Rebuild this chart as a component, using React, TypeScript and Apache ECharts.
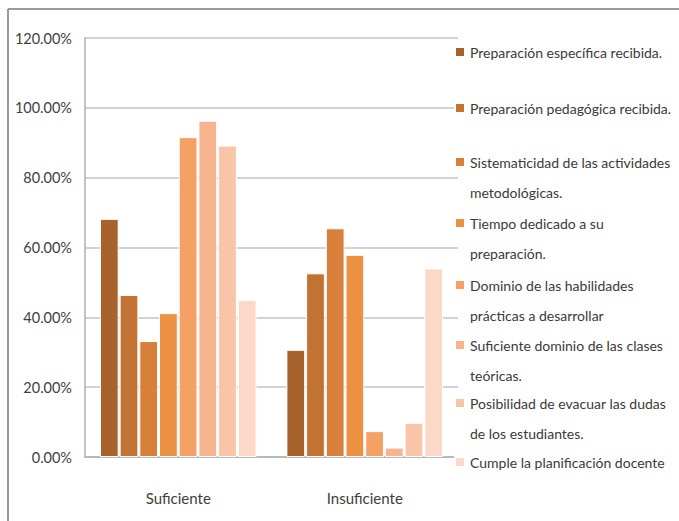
import React, { useEffect, useRef } from "react";
import * as echarts from "echarts";

const categories = ["Suficiente", "Insuficiente"];
const seriesNames = [
  "Preparación específica recibida.",
  "Preparación pedagógica recibida.",
  "Sistematicidad de las actividades metodológicas.",
  "Tiempo dedicado a su preparación.",
  "Dominio de las habilidades prácticas a desarrollar",
  "Suficiente dominio de las clases teóricas.",
  "Posibilidad de evacuar las dudas de los estudiantes.",
  "Cumple la planificación docente",
];
const legendLines = [
  ["Preparación específica recibida."],
  ["Preparación pedagógica recibida."],
  ["Sistematicidad de las actividades", "metodológicas."],
  ["Tiempo dedicado a su", "preparación."],
  ["Dominio de las habilidades", "prácticas a desarrollar"],
  ["Suficiente dominio de las clases", "teóricas."],
  ["Posibilidad de evacuar las dudas", "de los estudiantes."],
  ["Cumple la planificación docente"],
];
const suficiente = [68.2, 46.4, 33.2, 41.2, 91.6, 96.3, 89.2, 45.0];
const insuficiente = [30.7, 52.6, 65.5, 57.9, 7.4, 2.7, 9.8, 54.0];
const colors = ["#A8622B", "#C27232", "#D77F3B", "#EC9042", "#F5A064", "#F8B48F", "#F9C5A8", "#FBD8C8"];
const legendCenters = [52, 108, 162, 223, 285, 345, 403, 462];

const FONT = "Lato, 'Noto Sans', sans-serif";

export default function App() {
  const ref = useRef<HTMLDivElement>(null);
  useEffect(() => {
    if (!ref.current) return;
    const chart = echarts.init(ref.current, undefined, { renderer: "svg" });
    const LH = 30;
    const legends = seriesNames.map((name, i) => {
      const lines = legendLines[i];
      const twoLine = lines.length > 1;
      const text = twoLine ? "\n" + lines.join("\n") : lines[0];
      const h = twoLine ? LH * 3 : LH;
      return {
        show: true,
        orient: "vertical",
        left: 454,
        top: legendCenters[i] - h / 2,
        padding: 0,
        itemWidth: 10,
        itemHeight: 10,
        itemGap: 4,
        icon: "rect",
        data: [name],
        formatter: () => text,
        selectedMode: false,
        textStyle: {
          fontFamily: FONT,
          fontSize: 14,
          color: "#3a3a3a",
          lineHeight: LH,
        },
      };
    });
    chart.setOption({
      animation: false,
      color: colors,
      grid: { left: 85, right: 221, top: 38, bottom: 64, containLabel: false },
      legend: legends,
      graphic: [
        { type: "line", shape: { x1: 8, y1: 9, x2: 679, y2: 9 }, style: { stroke: "#9a9a9a", lineWidth: 2 } },
        { type: "line", shape: { x1: 8, y1: 9, x2: 8, y2: 521 }, style: { stroke: "#9a9a9a", lineWidth: 2 } },
      ],
      xAxis: {
        type: "category",
        data: categories,
        axisLine: { show: true, lineStyle: { color: "#b0b0b0", width: 1.5 } },
        axisTick: { show: false },
        axisLabel: { margin: 33, fontFamily: FONT, fontSize: 15, color: "#404040" },
      },
      yAxis: {
        type: "value",
        min: 0,
        max: 120,
        interval: 20,
        axisLine: { show: true, lineStyle: { color: "#b0b0b0", width: 1.5 } },
        axisTick: { show: false },
        splitLine: { show: true, lineStyle: { color: "#c4c4c4", width: 1.5 } },
        axisLabel: {
          margin: 13,
          fontFamily: FONT,
          fontSize: 14.5,
          color: "#404040",
          formatter: (v: number) => v.toFixed(2) + "%",
        },
      },
      series: seriesNames.map((name, i) => ({
        name,
        type: "bar",
        data: [suficiente[i], insuficiente[i]],
        barGap: "5%",
        barCategoryGap: "16%",
        itemStyle: { color: colors[i], borderColor: "#ffffff", borderWidth: 1 },
      })),
    });
    return () => chart.dispose();
  }, []);
  return (
    <div
      ref={ref}
      style={{ position: "fixed", left: 0, top: 0, width: 679, height: 521, background: "#fff" }}
    />
  );
}
